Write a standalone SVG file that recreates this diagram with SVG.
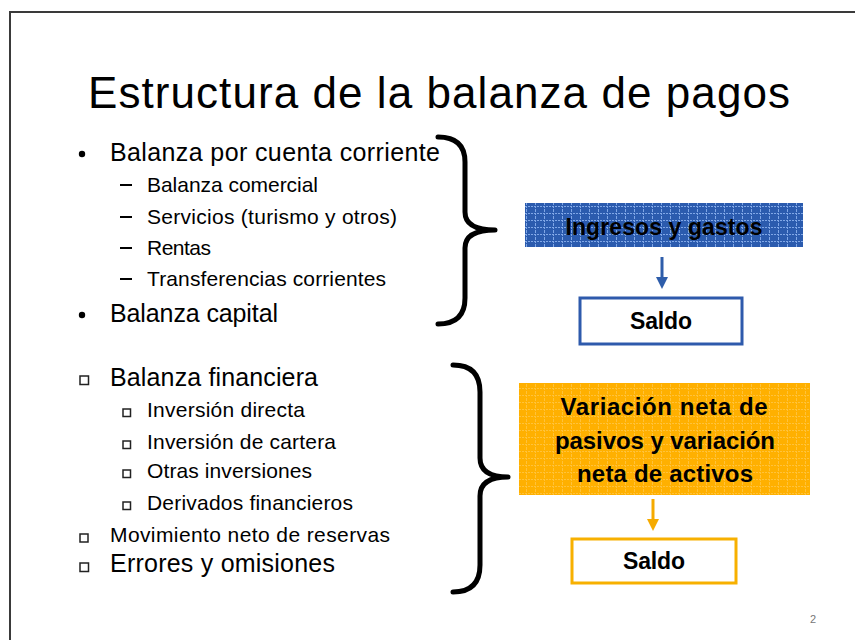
<svg xmlns="http://www.w3.org/2000/svg" width="855" height="640" viewBox="0 0 855 640">
<defs>
<style>
.t{font-family:"Liberation Sans",Arial,sans-serif;fill:#000}
.big{font-size:25px}
.sub{font-size:21px}
.b{font-weight:bold;text-anchor:middle}
.brace{fill:none;stroke:#000;stroke-width:5;stroke-linecap:round;stroke-linejoin:round}
.sq{fill:#fff;stroke:#222;stroke-width:1.5}
</style>
<pattern id="gridBlue" width="9" height="7" patternUnits="userSpaceOnUse">
<rect width="9" height="7" fill="#2B5BAE"/>
<path d="M0,3.5H9M4.5,0V7" stroke="#7FA6E6" stroke-width="1" stroke-dasharray="2,1"/>
</pattern>
<pattern id="gridOrange" width="9" height="7" patternUnits="userSpaceOnUse">
<rect width="9" height="7" fill="#FFB000"/>
<path d="M0,3.5H9M4.5,0V7" stroke="#FFC23A" stroke-width="1" stroke-dasharray="2,1"/>
</pattern>
<marker id="arrBlue" markerWidth="4" markerHeight="4" refX="2" refY="2" orient="auto" markerUnits="strokeWidth">
<path d="M0,0L4,2L0,4Z" fill="#2E5DAA"/>
</marker>
<marker id="arrOrange" markerWidth="4" markerHeight="4" refX="2" refY="2" orient="auto" markerUnits="strokeWidth">
<path d="M0,0L4,2L0,4Z" fill="#F5AA00"/>
</marker>
</defs>
<rect width="855" height="640" fill="#fff"/>
<g id="frame">
<path d="M10,640V12H855" fill="none" stroke="#3a3a3a" stroke-width="2"/>
</g>
<g id="title">
<text class="t" x="88" y="108" font-size="44" textLength="702">Estructura de la balanza de pagos</text>
</g>
<g id="list-corriente">
<circle cx="82" cy="154" r="3.2" fill="#000"/>
<text class="t big" x="110" y="161" textLength="330">Balanza por cuenta corriente</text>
<g fill="#000">
<rect x="120" y="184" width="12" height="2"/>
<rect x="120" y="216" width="12" height="2"/>
<rect x="120" y="247" width="12" height="2"/>
<rect x="120" y="278" width="12" height="2"/>
</g>
<text class="t sub" x="147" y="192" textLength="171">Balanza comercial</text>
<text class="t sub" x="147" y="224" textLength="250">Servicios (turismo y otros)</text>
<text class="t sub" x="147" y="255" textLength="64">Rentas</text>
<text class="t sub" x="147" y="286" textLength="239">Transferencias corrientes</text>
<circle cx="82" cy="315" r="3.2" fill="#000"/>
<text class="t big" x="110" y="322" textLength="168">Balanza capital</text>
</g>
<g id="list-financiera">
<rect class="sq" x="80" y="376" width="8.5" height="8.5"/>
<text class="t big" x="110" y="386" textLength="208">Balanza financiera</text>
<rect class="sq" x="123" y="409" width="7.5" height="7.5"/>
<text class="t sub" x="147" y="417" textLength="158">Inversión directa</text>
<rect class="sq" x="123" y="441" width="7.5" height="7.5"/>
<text class="t sub" x="147" y="449" textLength="189">Inversión de cartera</text>
<rect class="sq" x="123" y="470" width="7.5" height="7.5"/>
<text class="t sub" x="147" y="478" textLength="165">Otras inversiones</text>
<rect class="sq" x="123" y="502" width="7.5" height="7.5"/>
<text class="t sub" x="147" y="510" textLength="206">Derivados financieros</text>
<rect class="sq" x="80" y="534" width="8" height="8"/>
<text class="t sub" x="110" y="542" textLength="280">Movimiento neto de reservas</text>
<rect class="sq" x="80" y="563" width="8.5" height="8.5"/>
<text class="t big" x="110" y="572" textLength="225">Errores y omisiones</text>
</g>
<g id="connectors">
<path class="brace" d="M438,137 Q465,137 465,162 L465,212 Q465,230 495,230 Q465,230 465,248 L465,298 Q465,324 438,324"/>
<path class="brace" d="M453,365 Q480,365 480,392 L480,458 Q480,477 508,477 Q480,477 480,496 L480,565 Q480,592 453,592"/>
<line x1="662" y1="257" x2="662" y2="283" stroke="#2E5DAA" stroke-width="3" marker-end="url(#arrBlue)"/>
<line x1="653" y1="499" x2="653" y2="525" stroke="#F5AA00" stroke-width="3" marker-end="url(#arrOrange)"/>
</g>
<g id="ingresos-gastos">
<rect x="525" y="203" width="278" height="44" fill="url(#gridBlue)"/>
<text class="t b" x="664" y="235" font-size="23" textLength="197">Ingresos y gastos</text>
</g>
<g id="saldo-1">
<rect x="580" y="298" width="162" height="46" fill="#fff" stroke="#2E5AAC" stroke-width="3"/>
<text class="t b" x="661" y="329" font-size="23" textLength="62">Saldo</text>
</g>
<g id="variacion">
<rect x="519" y="383" width="291" height="112" fill="url(#gridOrange)"/>
<text class="t b" x="664" y="415" font-size="24" textLength="207">Variación neta de</text>
<text class="t b" x="665" y="449" font-size="24" textLength="220">pasivos y variación</text>
<text class="t b" x="665" y="482" font-size="24" textLength="176">neta de activos</text>
</g>
<g id="saldo-2">
<rect x="572" y="539" width="164" height="44" fill="#fff" stroke="#F7B000" stroke-width="3"/>
<text class="t b" x="654" y="569" font-size="23" textLength="62">Saldo</text>
</g>
<g id="page-number">
<text class="t" x="810" y="623" font-size="11" style="fill:#777">2</text>
</g>
</svg>
